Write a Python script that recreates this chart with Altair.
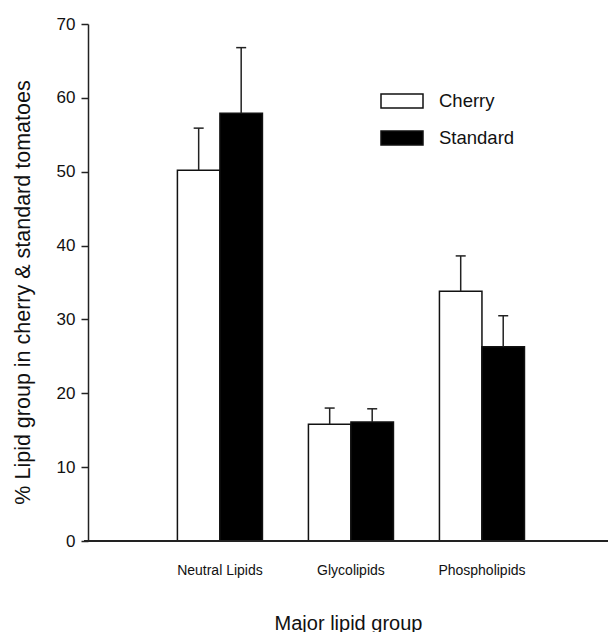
import altair as alt
import pandas as pd

categories = ["Neutral Lipids", "Glycolipids", "Phospholipids"]
series = ["Cherry", "Standard"]
cherry = [50.2, 15.8, 33.8]
cherry_err = [5.7, 2.2, 4.8]
standard = [57.9, 16.1, 26.3]
standard_err = [8.9, 1.8, 4.2]

rows = []
for i, c in enumerate(categories):
    rows.append({"group": c, "series": "Cherry", "value": cherry[i], "err": cherry_err[i]})
    rows.append({"group": c, "series": "Standard", "value": standard[i], "err": standard_err[i]})
df = pd.DataFrame(rows)

FONT = "Liberation Sans"
W, H = 520, 517

x = alt.X("group:N", sort=categories, title="Major lipid group",
          scale=alt.Scale(paddingInner=0.351, paddingOuter=0.66, align=0.517),
          axis=alt.Axis(labelAngle=0, ticks=False, domain=False, labelPadding=22, labelFontSize=14,
                        titleFontSize=20, titlePadding=36, titleFontWeight="normal",
                        labelColor="#111", titleColor="#111"))
xo = alt.XOffset("series:N", sort=series, scale=alt.Scale(paddingInner=0, paddingOuter=0))
y = alt.Y("value:Q", title="% Lipid group in cherry & standard tomatoes",
          scale=alt.Scale(domain=[0, 70], nice=False),
          axis=alt.Axis(values=[0, 10, 20, 30, 40, 50, 60, 70], grid=False, tickSize=7,
                        tickColor="#222", tickWidth=1.5, domainColor="#222", domainWidth=1.5,
                        labelFontSize=17, labelPadding=6, titleFontSize=21.5, titlePadding=22,
                        titleY=268, titleFontWeight="normal", labelColor="#111", titleColor="#111"))

base = alt.Chart(df)

bars = base.mark_bar(stroke="#111", strokeWidth=1.5, strokeOpacity=1).encode(
    x=x, xOffset=xo, y=y,
    fill=alt.Fill("series:N", sort=series,
                  scale=alt.Scale(domain=series, range=["white", "black"]),
                  legend=alt.Legend(title=None, orient="none", legendX=299, legendY=62,
                                    symbolType="M-1.5,-0.5h3v1h-3z", symbolSize=784,
                                    symbolStrokeColor="#111", symbolStrokeWidth=1.5,
                                    symbolOpacity=1, labelFontSize=18.5, labelOffset=22,
                                    rowPadding=12, padding=0, labelColor="#111", labelFont=FONT)),
)

rules = base.transform_calculate(top="datum.value + datum.err").mark_rule(
    color="#222", strokeWidth=1.5).encode(
    x=x, xOffset=xo, y="value:Q", y2="top:Q")

caps = base.transform_calculate(top="datum.value + datum.err").mark_tick(
    color="#222", thickness=1.5, size=10, opacity=1).encode(
    x=x, xOffset=xo, y="top:Q")

baseline = alt.Chart(pd.DataFrame({"v": [0]})).mark_rule(color="#222", strokeWidth=1.8).encode(
    y=alt.Y("v:Q"), x=alt.value(-4), x2=alt.value(W))

chart = alt.layer(bars, rules, caps, baseline).properties(
    width=W, height=H,
    autosize=alt.AutoSizeParams(type="none"),
    padding={"left": 88, "top": 24, "right": 0, "bottom": 91},
).configure_view(stroke=None).configure_axis(
    labelFont=FONT, titleFont=FONT).configure_legend(labelFont=FONT)

chart.save("out.html", embed_options={"renderer": "svg", "actions": False})
